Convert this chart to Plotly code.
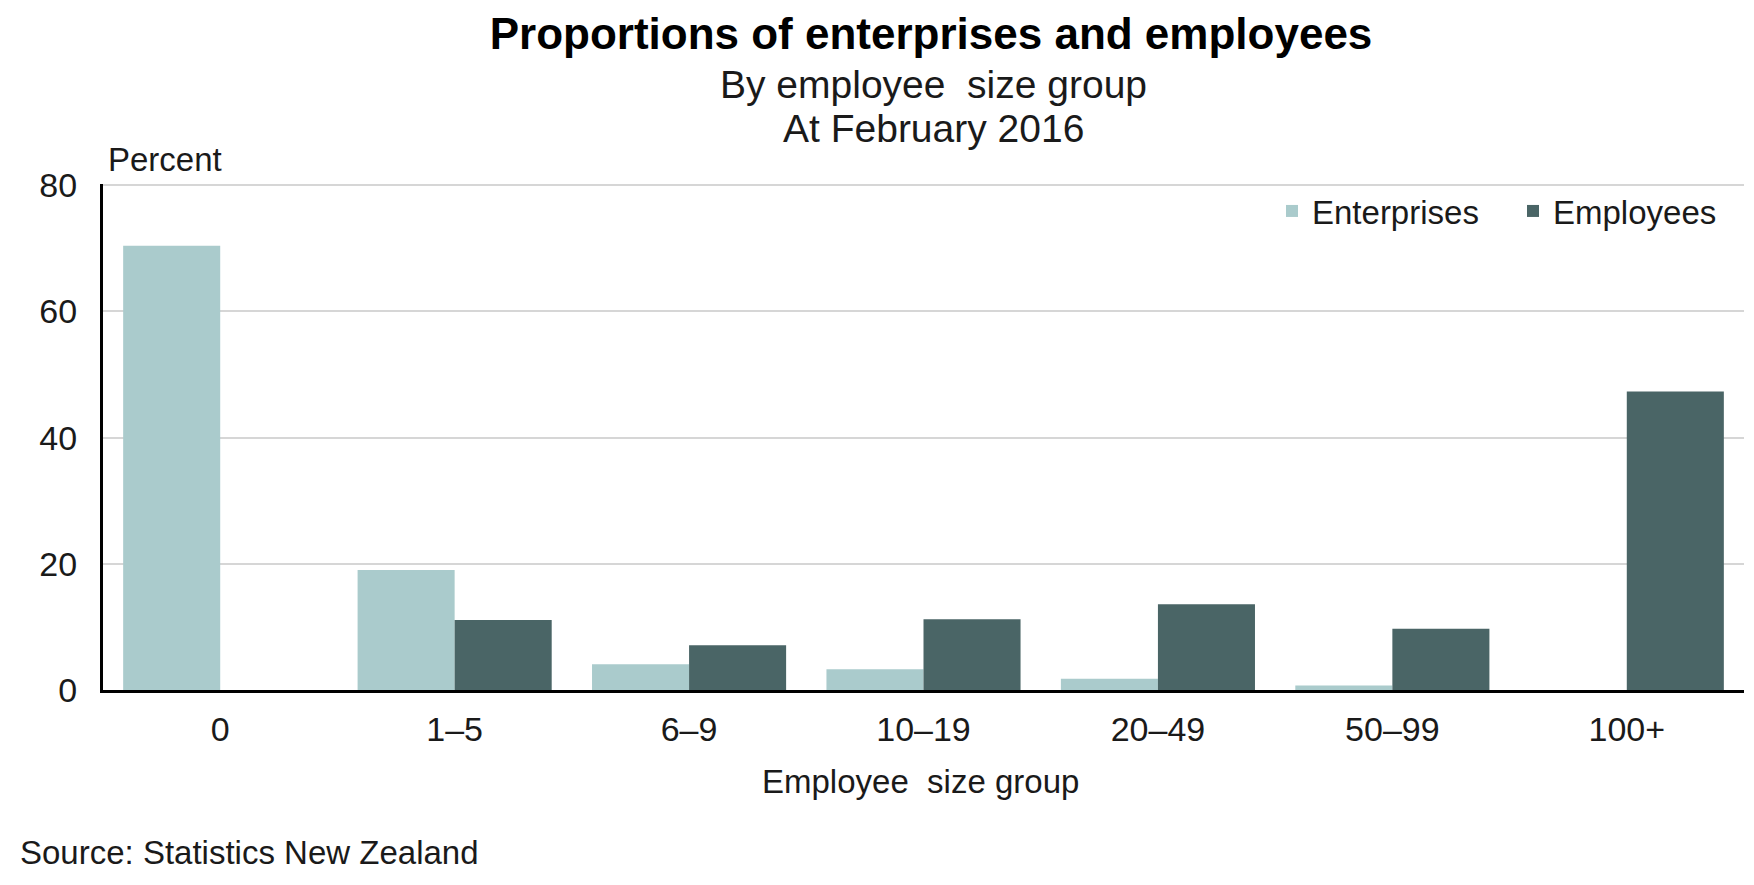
import plotly.graph_objects as go

categories = ["0", "1–5", "6–9", "10–19", "20–49", "50–99", "100+"]
enterprises = [70.4, 19.0, 4.1, 3.3, 1.8, 0.7, 0.0]
employees = [0.0, 11.1, 7.1, 11.2, 13.6, 9.7, 47.3]
y_ticks = [0, 20, 40, 60, 80]

FONT = "Liberation Sans, Arial, sans-serif"
LIGHT = "#AACBCC"
DARK = "#4A6566"
TXT = "#1a1a1a"

W, H = 1754, 885
L, R, T, B = 95, 18, 176, 203
pw, ph = W - L - R, H - T - B

def px(x):
    return (x - L) / pw

def py(y):
    return (H - B - y) / ph

fig = go.Figure()
fig.add_trace(go.Bar(x=categories, y=enterprises, name="Enterprises",
                     marker=dict(color=LIGHT, line=dict(width=0))))
fig.add_trace(go.Bar(x=categories, y=employees, name="Employees",
                     marker=dict(color=DARK, line=dict(width=0))))

fig.update_layout(
    width=W, height=H,
    margin=dict(l=L, r=R, t=T, b=B, autoexpand=False),
    paper_bgcolor="white", plot_bgcolor="white",
    barmode="group", bargap=0.172, bargroupgap=0,
    font=dict(family=FONT, size=33, color=TXT),
    title=dict(text="<b>Proportions of enterprises and employees</b>",
               x=px(923), xanchor="center", xref="paper",
               y=1 - 26 / H, yanchor="middle", yref="container",
               font=dict(family=FONT, size=44, color="#000000")),
    legend=dict(orientation="h", x=px(1264), xanchor="left",
                y=py(203), yanchor="middle", bgcolor="rgba(0,0,0,0)",
                font=dict(family=FONT, size=33, color=TXT),
                traceorder="normal", itemwidth=30,
                entrywidth=196, entrywidthmode="pixels"),
    xaxis=dict(showline=True, linecolor="#000000", linewidth=3,
               ticks="", showgrid=False, ticklabelstandoff=7,
               tickfont=dict(family=FONT, size=34, color=TXT)),
    yaxis=dict(range=[0, 80.2], tickvals=y_ticks, showline=True,
               linecolor="#000000", linewidth=3, showgrid=True,
               gridcolor="#D6D6D6", gridwidth=2, zeroline=False,
               ticks="", ticklabelstandoff=16,
               tickfont=dict(family=FONT, size=34, color=TXT)),
)

annots = [
    dict(text="By employee  size group", x=px(926), y=py(76), size=39),
    dict(text="At February 2016", x=px(925), y=py(121), size=39),
    dict(text="Employee  size group", x=px(912), y=py(773), size=33),
]
for a in annots:
    fig.add_annotation(text=a["text"], x=a["x"], y=a["y"], xref="paper", yref="paper",
                       xanchor="center", yanchor="middle", showarrow=False,
                       font=dict(family=FONT, size=a["size"], color=TXT))

fig.add_annotation(text="Percent", x=px(98), y=py(151), xref="paper", yref="paper",
                   xanchor="left", yanchor="middle", showarrow=False,
                   font=dict(family=FONT, size=33, color=TXT))
fig.add_annotation(text="Source: Statistics New Zealand", x=px(10), y=py(844),
                   xref="paper", yref="paper", xanchor="left", yanchor="middle",
                   showarrow=False, font=dict(family=FONT, size=33, color=TXT))

fig.write_html("out.html")
